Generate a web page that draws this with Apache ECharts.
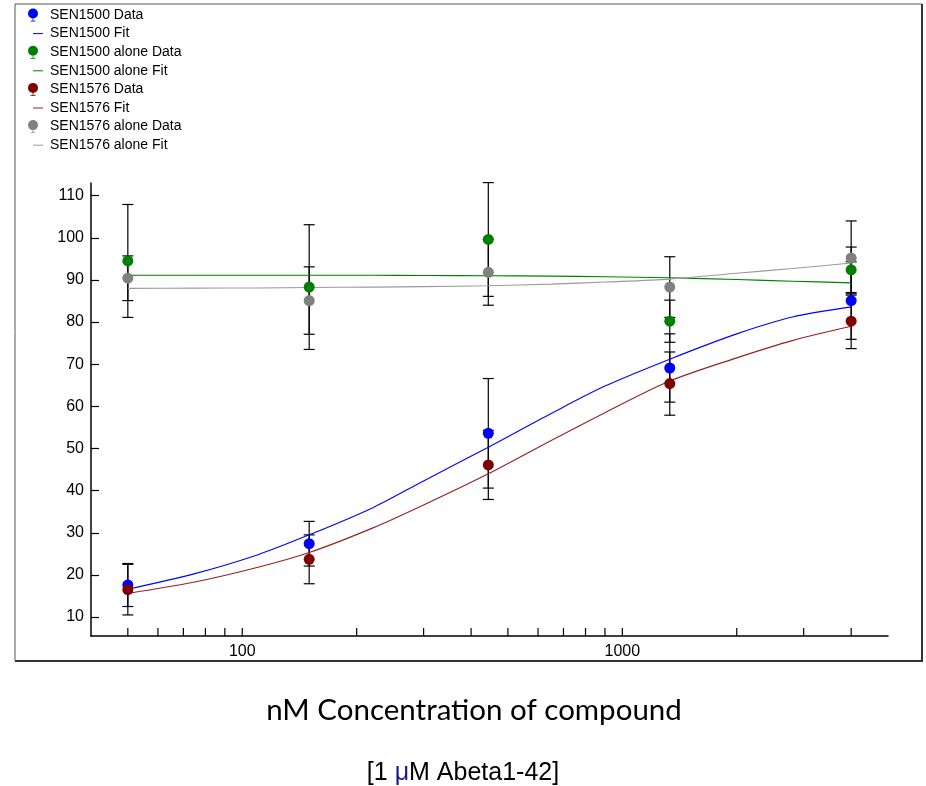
<!DOCTYPE html>
<html><head><meta charset="utf-8">
<script src="https://cdn.jsdelivr.net/npm/echarts@6/dist/echarts.min.js"></script>
<style>html,body{margin:0;padding:0;background:#fff}#c{width:926px;height:786px}</style>
</head><body><div id="c"></div>
<script>
// ---- data ----
const xValues = [50, 150, 444, 1333, 4000];
const sen1500 = [17.6, 27.4, 53.6, 69.1, 85.1];
const sen1500Err = [5.1, 5.3, 13.0, 8.1, 9.2];
const sen1500Alone = [94.5, 88.3, 99.6, 80.2, 92.4];
const sen1500AloneErr = [13.4, 14.8, 13.5, 5.0, 5.4];
const sen1576 = [16.5, 23.7, 46.1, 65.4, 80.2];
const sen1576Err = [6.0, 5.8, 8.2, 7.5, 6.5];
const sen1576Alone = [90.4, 85.1, 91.8, 88.3, 95.2];
const sen1576AloneErr = [5.3, 8.0, 7.8, 7.2, 8.8];

const fitX = [50, 75, 110, 150, 220, 300, 444, 650, 900, 1333, 2000, 2800, 4000];
const sen1500Fit = [16.6, 20.3, 24.8, 29.5, 35.9, 42.3, 50.3, 58.3, 64.8, 71.2, 77.2, 81.2, 83.6];
const sen1500AloneFit = [91.1, 91.1, 91.1, 91.1, 91.1, 91.05, 91.0, 90.9, 90.75, 90.5, 90.1, 89.7, 89.3];
const sen1576Fit = [15.6, 18.3, 21.8, 25.3, 31.1, 36.6, 44.0, 51.9, 58.5, 66.0, 71.5, 75.6, 79.0];
const sen1576AloneFit = [88.0, 88.05, 88.1, 88.2, 88.3, 88.4, 88.6, 89.0, 89.5, 90.2, 91.6, 92.7, 94.0];

const xTickValues = [50, 60, 70, 80, 90, 100, 200, 300, 400, 500, 600, 700, 800, 900, 1000, 2000, 3000, 4000];
const xLabelValues = [100, 1000];
const yTickValues = [10, 20, 30, 40, 50, 60, 70, 80, 90, 100, 110];

const names = ['SEN1500 Data', 'SEN1500 Fit', 'SEN1500 alone Data', 'SEN1500 alone Fit',
               'SEN1576 Data', 'SEN1576 Fit', 'SEN1576 alone Data', 'SEN1576 alone Fit'];
const colors = { blue: '#0000ff', green: '#008000', red: '#800000', gray: '#808080' };
const fitColors = { blue: '#0000ff', green: '#008000', red: '#962020', gray: '#9a9a9a' };

const Y_MIN = 5.5, Y_MAX = 113;

const chart = echarts.init(document.getElementById('c'));

function pairs(xs, ys) { return xs.map((x, i) => [x, ys[i]]); }

function errorBars(vals, errs) {
  return {
    type: 'custom', silent: true, z: 2, clip: false,
    data: xValues.map((x, i) => [x, vals[i] - errs[i], vals[i] + errs[i]]),
    encode: { x: 0, y: [1, 2] },
    renderItem: (params, api) => {
      const lo = api.coord([api.value(0), api.value(1)]);
      const hi = api.coord([api.value(0), api.value(2)]);
      const w = 5.5;
      const style = { stroke: '#000', lineWidth: 1.2 };
      return { type: 'group', children: [
        { type: 'line', shape: { x1: lo[0], y1: lo[1], x2: hi[0], y2: hi[1] }, style },
        { type: 'line', shape: { x1: lo[0] - w, y1: lo[1], x2: lo[0] + w, y2: lo[1] }, style },
        { type: 'line', shape: { x1: hi[0] - w, y1: hi[1], x2: hi[0] + w, y2: hi[1] }, style }
      ]};
    }
  };
}
function scatter(name, vals, color) {
  return { type: 'scatter', name, data: pairs(xValues, vals), symbol: 'circle', symbolSize: 11,
    itemStyle: { color, opacity: 1 }, z: 4 };
}
function fit(name, vals, color) {
  return { type: 'line', name, data: pairs(fitX, vals), smooth: 0.3, symbol: 'none',
    lineStyle: { color, width: 1.1 }, itemStyle: { color }, z: 3 };
}

const dataIcon = 'path://M0,0 M19,13 M2,5 A5,5 0 1 1 12,5 A5,5 0 1 1 2,5 Z M6.6,10 L7.4,10 L7.4,13 L6.6,13 Z M4.5,12.3 L9.5,12.3 L9.5,13 L4.5,13 Z';
const lineIcon = 'path://M0,0 M19,13 M7,6 L17,6 L17,7 L7,7 Z';

const option = {
  animation: false,
  backgroundColor: '#fff',
  textStyle: { fontFamily: "'Liberation Sans', Arial, sans-serif" },
  grid: { left: 91, right: 38, top: 183, bottom: 150 },
  legend: {
    orient: 'vertical', left: 26, top: 8, padding: 0, itemWidth: 19, itemHeight: 13, itemGap: 4.6,
    textStyle: { fontSize: 14, lineHeight: 14, color: '#000', fontFamily: "'Liberation Sans', Arial" },
    data: names.map((n, i) => ({ name: n, icon: i % 2 === 0 ? dataIcon : lineIcon }))
  },
  xAxis: {
    type: 'log', min: 40, max: 5000, logBase: 10,
    axisLine: { lineStyle: { color: '#000', width: 1.5 } },
    axisTick: { show: false },
    splitLine: { show: false },
    axisLabel: {
      color: '#000', fontSize: 16, margin: 8, showMinLabel: false, showMaxLabel: false,
      formatter: v => xLabelValues.indexOf(Math.round(v)) >= 0 ? String(Math.round(v)) : ''
    }
  },
  yAxis: {
    type: 'value', min: Y_MIN, max: Y_MAX,
    axisLine: { show: true, lineStyle: { color: '#000', width: 1.5 } },
    axisTick: { show: true, inside: true, length: 8, lineStyle: { color: '#000', width: 1.2 }, customValues: yTickValues },
    axisLabel: { color: '#000', fontSize: 16, margin: 7, customValues: yTickValues },
    splitLine: { show: false }
  },
  title: [
    { text: 'nM Concentration of compound', left: 469, top: 690, textAlign: 'center',
      textStyle: { fontFamily: 'Lato, "Open Sans", sans-serif', fontSize: 29.5, fontWeight: 'normal', color: '#000' } },
    { text: '{a|[1 }{b|μ}{a|M Abeta1-42]}', left: 458, top: 756, textAlign: 'center',
      textStyle: { fontWeight: 'normal', rich: {
        a: { fontFamily: "'Liberation Sans', Arial", fontSize: 25, fontWeight: 'normal', color: '#000' },
        b: { fontFamily: "'Liberation Sans', Arial", fontSize: 25, fontWeight: 'normal', color: '#1a1a8c' } } } }
  ],
  graphic: [
    { type: 'rect', shape: { x: 15, y: 4, width: 907, height: 657 }, style: { fill: 'none', stroke: '#555', lineWidth: 1 }, z: -10 },
    { type: 'line', shape: { x1: 922, y1: 4, x2: 922, y2: 662 }, style: { stroke: '#333', lineWidth: 2 }, z: -10 },
    { type: 'line', shape: { x1: 15, y1: 661, x2: 923, y2: 661 }, style: { stroke: '#333', lineWidth: 2 }, z: -10 }
  ],
  series: [
    // x-axis ticks (major + minor) placed through the log axis scale
    { type: 'custom', silent: true, z: 5, clip: false,
      data: xTickValues.map(v => [v, Y_MIN]), encode: { x: 0, y: 1 },
      renderItem: (p, api) => {
        const c = api.coord([api.value(0), api.value(1)]);
        return { type: 'line', shape: { x1: c[0], y1: c[1], x2: c[0], y2: c[1] - 8 }, style: { stroke: '#000', lineWidth: 1.2 } };
      } },
    errorBars(sen1500, sen1500Err),
    errorBars(sen1500Alone, sen1500AloneErr),
    errorBars(sen1576, sen1576Err),
    errorBars(sen1576Alone, sen1576AloneErr),
    fit('SEN1500 Fit', sen1500Fit, fitColors.blue),
    fit('SEN1500 alone Fit', sen1500AloneFit, fitColors.green),
    fit('SEN1576 Fit', sen1576Fit, fitColors.red),
    fit('SEN1576 alone Fit', sen1576AloneFit, fitColors.gray),
    scatter('SEN1500 Data', sen1500, colors.blue),
    scatter('SEN1500 alone Data', sen1500Alone, colors.green),
    scatter('SEN1576 Data', sen1576, colors.red),
    scatter('SEN1576 alone Data', sen1576Alone, colors.gray)
  ]
};
chart.setOption(option);
</script>
</body></html>
